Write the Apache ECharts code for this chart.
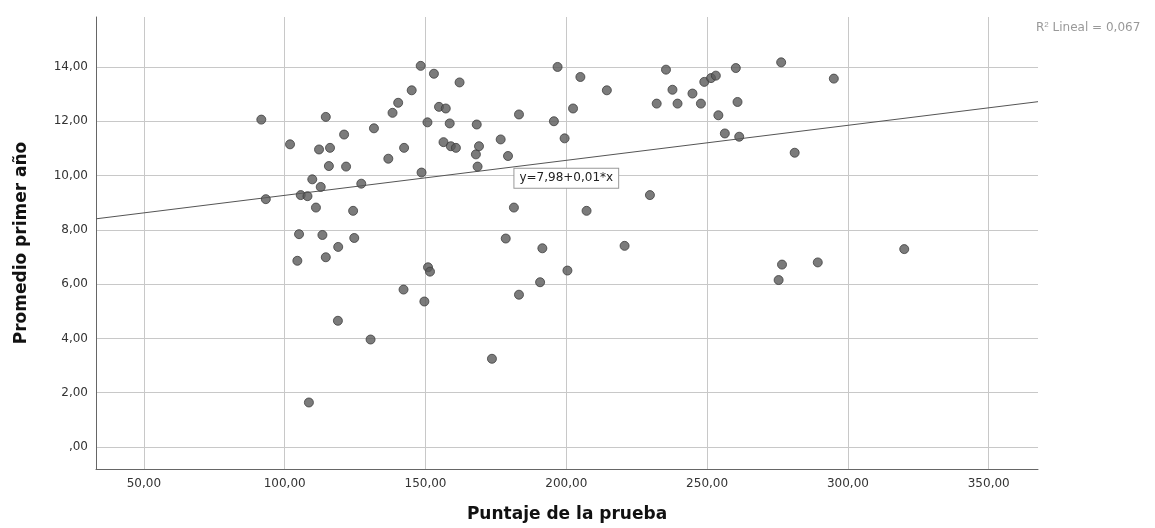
<!DOCTYPE html>
<html>
<head>
<meta charset="utf-8">
<script src="https://cdn.jsdelivr.net/npm/echarts@6/dist/echarts.min.js"></script>
<style>
html,body{margin:0;padding:0;background:#fff;}
#chart{width:1155px;height:528px;}
</style>
</head>
<body>
<div id="chart"></div>
<script>
// Data
const puntaje = [91.7,93.3,101.9,104.5,105.1,105.7,108.1,108.6,109.8,111.1,112.2,112.8,113.4,114.6,114.6,115.7,116.1,118.9,119.0,121.1,121.8,124.3,124.7,127.2,130.5,131.7,136.8,138.3,140.3,142.2,142.4,145.1,148.3,148.6,149.6,150.7,150.9,151.6,153.0,154.8,156.4,157.2,158.6,159.0,160.8,162.1,167.9,168.2,168.5,169.0,173.6,176.7,178.5,179.3,181.4,183.2,183.2,190.7,191.5,195.6,196.9,199.4,200.4,202.4,205.0,207.2,214.4,220.7,229.7,232.1,235.4,237.7,239.5,244.8,247.8,249.0,251.4,253.1,254.0,256.3,260.2,260.8,261.4,275.4,276.3,276.6,281.1,289.3,295.0,320.0];
const promedio = [12.06,9.13,11.15,6.86,7.84,9.28,9.24,1.64,9.86,8.82,10.96,9.58,7.81,12.16,6.99,10.35,11.02,4.65,7.37,11.51,10.33,8.70,7.70,9.70,3.96,11.74,10.62,12.31,12.68,5.80,11.02,13.14,14.04,10.11,5.36,11.96,6.62,6.46,13.75,12.53,11.23,12.47,11.92,11.08,11.02,13.43,10.78,11.88,10.33,11.08,3.25,11.33,7.68,10.72,8.82,12.25,5.61,6.07,7.32,12.00,14.00,11.37,6.50,12.47,13.63,8.70,13.14,7.41,9.28,12.65,13.90,13.16,12.65,13.02,12.65,13.45,13.59,13.68,12.22,11.55,13.96,12.71,11.43,6.15,14.17,6.72,10.84,6.80,13.57,7.29];
const xTicks = [50,100,150,200,250,300,350];
const yTicks = [0,2,4,6,8,10,12,14];
const fitIntercept = 7.98;
const fitSlope = 0.0129;
const fitLabel = 'y=7,98+0,01*x';
const fitLabelAt = [200, 9.9];
const r2Text = 'Lineal = 0,067';

const xMin = 33, xMax = 367.5, yMin = -0.81, yMax = 15.84;

const fmt = v => v === 0 ? ',00' : v.toFixed(2).replace('.', ',');
const pts = puntaje.map((x, i) => [x, promedio[i]]);
const fitLine = [xMin, xMax].map(x => [x, fitIntercept + fitSlope * x]);

const font = 'DejaVu Sans, Liberation Sans, sans-serif';
const chart = echarts.init(document.getElementById('chart'));
chart.setOption({
  animation: false,
  backgroundColor: '#ffffff',
  grid: {left: 96, right: 117, top: 17, bottom: 57, containLabel: false},
  xAxis: {
    type: 'value', min: xMin, max: xMax,
    name: 'Puntaje de la prueba', nameLocation: 'middle', nameGap: 37,
    nameTextStyle: {fontFamily: font, fontSize: 17, fontWeight: 'bold', color: '#111'},
    axisLine: {show: true, onZero: false, lineStyle: {color: '#666', width: 1}},
    axisTick: {show: false, customValues: xTicks},
    axisLabel: {customValues: xTicks, formatter: fmt, fontFamily: font, fontSize: 12, color: '#333', margin: 9},
    splitLine: {show: true, lineStyle: {color: '#c8c8c8', width: 1}}
  },
  yAxis: {
    type: 'value', min: yMin, max: yMax,
    name: 'Promedio primer año', nameLocation: 'middle', nameGap: 66, nameRotate: 90,
    nameTextStyle: {fontFamily: font, fontSize: 17, fontWeight: 'bold', color: '#111'},
    axisLine: {show: true, onZero: false, lineStyle: {color: '#666', width: 1}},
    axisTick: {show: false, customValues: yTicks},
    axisLabel: {customValues: yTicks, formatter: fmt, fontFamily: font, fontSize: 12, color: '#333', margin: 8},
    splitLine: {show: true, lineStyle: {color: '#c8c8c8', width: 1}}
  },
  series: [
    {
      type: 'line', data: fitLine, symbol: 'none', silent: true, z: 3,
      lineStyle: {color: '#555', width: 1},
      markPoint: {
        symbol: 'rect', symbolSize: 1, itemStyle: {color: 'rgba(0,0,0,0)'},
        data: [{coord: fitLabelAt, value: fitLabel}],
        label: {
          show: true, position: 'inside', formatter: fitLabel,
          fontFamily: font, fontSize: 12, color: '#222',
          backgroundColor: '#fff', borderColor: '#999', borderWidth: 1,
          padding: [4, 5, 3, 5]
        }
      }
    },
    {
      type: 'scatter', data: pts, symbol: 'circle', symbolSize: 9, z: 4,
      itemStyle: {color: '#5a5a5a', borderColor: '#3e3e3e', borderWidth: 1}
    }
  ],
  graphic: [{
    type: 'text', left: 1036, top: 21,
    style: {
      text: 'R{sup|2} ' + r2Text,
      fontFamily: font, fontSize: 12, fill: '#999',
      rich: {sup: {fontSize: 8, fill: '#999', verticalAlign: 'top', padding: [0, 0, 5, 0]}}
    }
  }]
});
</script>
</body>
</html>
